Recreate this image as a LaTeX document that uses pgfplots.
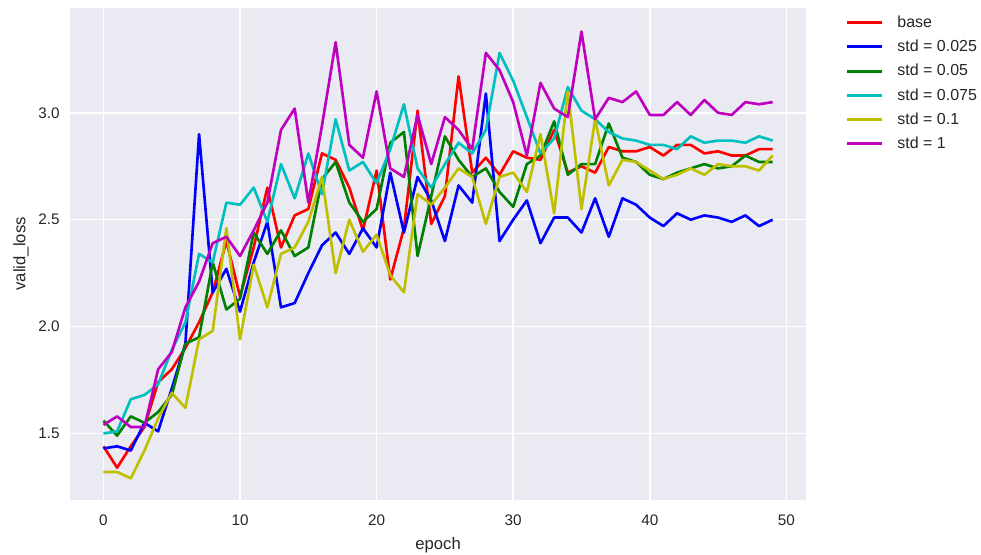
\documentclass[border=0pt]{standalone}
\usepackage{fontspec}
\setmainfont{Liberation Sans}
\usepackage{pgfplots}
\usepackage{pgfplotstable}
\pgfplotsset{compat=1.18}

\definecolor{bgcol}{HTML}{EAEAF2}
\definecolor{labelcol}{HTML}{262626}
\definecolor{mplr}{HTML}{FF0000}
\definecolor{mplb}{HTML}{0000FF}
\definecolor{mplg}{HTML}{008000}
\definecolor{mplc}{HTML}{00BFBF}
\definecolor{mply}{HTML}{BFBF00}
\definecolor{mplm}{HTML}{BF00BF}

% validation loss per epoch for each run
\pgfplotstableread{
e base s025 s05 s075 s1 s10
0 1.44 1.43 1.56 1.50 1.32 1.54
1 1.34 1.44 1.49 1.51 1.32 1.58
2 1.44 1.42 1.58 1.66 1.29 1.53
3 1.53 1.55 1.55 1.68 1.42 1.53
4 1.74 1.51 1.60 1.73 1.57 1.80
5 1.80 1.71 1.68 1.89 1.69 1.88
6 1.90 1.92 1.92 2.02 1.62 2.09
7 2.02 2.90 1.95 2.34 1.94 2.21
8 2.16 2.16 2.30 2.30 1.98 2.39
9 2.40 2.27 2.08 2.58 2.46 2.42
10 2.14 2.07 2.13 2.57 1.94 2.33
11 2.37 2.30 2.44 2.65 2.29 2.45
12 2.65 2.49 2.34 2.49 2.09 2.58
13 2.37 2.09 2.45 2.76 2.34 2.92
14 2.52 2.11 2.33 2.60 2.37 3.02
15 2.55 2.25 2.37 2.81 2.49 2.58
16 2.81 2.38 2.69 2.62 2.70 2.94
17 2.78 2.44 2.77 2.97 2.25 3.33
18 2.65 2.34 2.58 2.73 2.50 2.85
19 2.45 2.46 2.49 2.77 2.35 2.79
20 2.73 2.37 2.55 2.67 2.43 3.10
21 2.22 2.72 2.86 2.83 2.24 2.74
22 2.46 2.44 2.91 3.04 2.16 2.70
23 3.01 2.70 2.33 2.74 2.62 2.99
24 2.48 2.59 2.61 2.65 2.57 2.76
25 2.61 2.40 2.89 2.76 2.65 2.98
26 3.17 2.66 2.78 2.86 2.74 2.92
27 2.72 2.58 2.70 2.81 2.70 2.83
28 2.79 3.09 2.74 2.92 2.48 3.28
29 2.71 2.40 2.63 3.28 2.70 3.20
30 2.82 2.50 2.56 3.15 2.72 3.05
31 2.79 2.59 2.76 2.98 2.63 2.80
32 2.78 2.39 2.80 2.81 2.90 3.14
33 2.92 2.51 2.96 2.88 2.53 3.02
34 2.72 2.51 2.71 3.12 3.10 2.98
35 2.75 2.44 2.76 3.01 2.55 3.38
36 2.72 2.60 2.76 2.97 2.97 2.97
37 2.84 2.42 2.95 2.91 2.66 3.07
38 2.82 2.60 2.79 2.88 2.78 3.05
39 2.82 2.57 2.77 2.87 2.77 3.10
40 2.84 2.51 2.71 2.85 2.73 2.99
41 2.80 2.47 2.69 2.85 2.69 2.99
42 2.85 2.53 2.72 2.83 2.71 3.05
43 2.85 2.50 2.74 2.89 2.74 2.99
44 2.81 2.52 2.76 2.86 2.71 3.06
45 2.82 2.51 2.74 2.87 2.76 3.00
46 2.80 2.49 2.75 2.87 2.75 2.99
47 2.80 2.52 2.80 2.86 2.75 3.05
48 2.83 2.47 2.77 2.89 2.73 3.04
49 2.83 2.50 2.77 2.87 2.80 3.05
}\losstable

\begin{document}
\begin{tikzpicture}
\useasboundingbox (-50.4pt,-39.6pt) rectangle (655.9pt,359.8pt);
\begin{axis}[
  at={(0,0)}, anchor=south west,
  scale only axis, width=530pt, height=354pt,
  xmin=-2.45, xmax=51.45, ymin=1.19, ymax=3.49,
  axis background/.style={fill=bgcol},
  axis line style={draw=none},
  grid=major, major grid style={white, line width=1.1pt},
  major tick length=0pt,
  xtick={0,10,...,50}, ytick={1.5,2,2.5,3},
  /pgf/number format/assume math mode=true,
  yticklabel style={/pgf/number format/fixed, /pgf/number format/fixed zerofill, /pgf/number format/precision=1, xshift=-4pt},
  xticklabel style={yshift=-7.5pt},
  tick label style={font=\fontsize{11}{13}\selectfont, text=labelcol},
  label style={font=\fontsize{12}{14}\selectfont, text=labelcol},
  xlabel={epoch}, ylabel={valid\_loss},
  xlabel style={yshift=-1.8pt},
  ylabel style={yshift=0pt},
  legend cell align=left,
  legend style={draw=none, fill=none, at={(axis description cs:1.048,0.996)}, anchor=north west,
    font=\fontsize{11.5}{13.5}\selectfont, text=labelcol, row sep=3.6pt, column sep=6pt,
    nodes={inner xsep=4pt}},
  legend image code/.code={\draw[#1, line width=2.1pt] (0pt,0pt) -- (25pt,0pt);},
  every axis plot/.append style={line width=1.9pt, line join=round},
]
\addplot[mplr] table[x=e, y=base] {\losstable};
\addlegendentry{base}
\addplot[mplb] table[x=e, y=s025] {\losstable};
\addlegendentry{std = 0.025}
\addplot[mplg] table[x=e, y=s05] {\losstable};
\addlegendentry{std = 0.05}
\addplot[mplc] table[x=e, y=s075] {\losstable};
\addlegendentry{std = 0.075}
\addplot[mply] table[x=e, y=s1] {\losstable};
\addlegendentry{std = 0.1}
\addplot[mplm] table[x=e, y=s10] {\losstable};
\addlegendentry{std = 1}
\end{axis}
\end{tikzpicture}
\end{document}
